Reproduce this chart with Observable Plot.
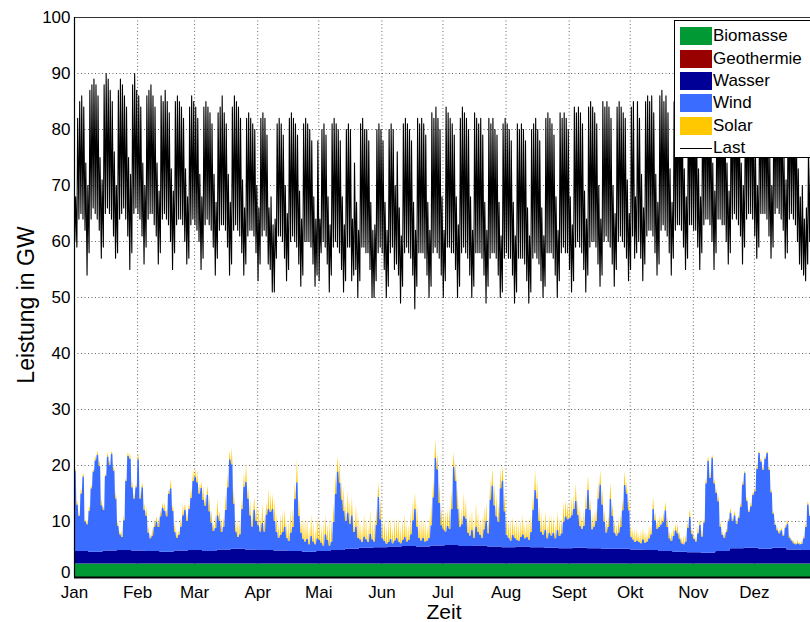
<!DOCTYPE html>
<html>
<head>
<meta charset="utf-8">
<script src="https://cdn.jsdelivr.net/npm/d3@7"></script>
<script src="https://cdn.jsdelivr.net/npm/@observablehq/plot@0.6"></script>
<style>
  html, body { margin: 0; padding: 0; background: #fff; overflow: hidden; }
  #wrap { position: relative; width: 810px; height: 622px; overflow: hidden; font-family: "Liberation Sans", Arial, sans-serif; }
  #wrap svg { overflow: hidden; }
  .lbl { position: absolute; color: #000; font-size: 21px; line-height: 20px; white-space: nowrap; }
  #ylab { left: 26px; top: 305px; font-size: 23px; line-height: 23px; transform: translate(-50%, -50%) rotate(-90deg); }
  #xlab { left: 444px; top: 612px; transform: translate(-50%, -50%); }
  #legend { position: absolute; left: 674px; top: 20px; width: 150px; height: 136px; border: 1px solid #000; background: #fff; }
  .item { position: absolute; left: 5px; height: 18px; display: flex; align-items: center; font-size: 17px; color: #000; }
  .sw { width: 32px; height: 18px; margin-right: 1px; }
  .ln { width: 32px; height: 1px; background: #000; margin-right: 1px; }
</style>
</head>
<body>
<div id="wrap">
  <div id="chart"></div>
  <div class="lbl" id="ylab">Leistung in GW</div>
  <div class="lbl" id="xlab">Zeit</div>
  <div id="legend"></div>
</div>
<script>
// ---------- data ----------
const MONTHS = ["Jan","Feb","Mar","Apr","Mai","Jun","Jul","Aug","Sept","Okt","Nov","Dez"];
const MONTH_START = [0,31,59,90,120,151,181,212,243,273,304,334];
const Y_TICKS = [0,10,20,30,40,50,60,70,80,90,100];
const SOURCES = ["Biomasse","Geothermie","Wasser","Wind","Solar"];
const COLORS = ["#009933","#990000","#000096","#3a6cff","#ffc800"];
const LOAD_NAME = "Last";

const BIOMASSE = 2.4;     // GW, constant band
const GEOTHERMIE = 0.03;  // GW, barely visible

// Wasser, one value per week (53 weeks)
const WASSER_WEEKLY = [2.2,2.1,2.3,2.4,2.3, 2.2,2.1,2.3,2.4, 2.2,2.5,2.6,2.5, 2.4,2.3,2.2,2.1,
  2.2,2.4,2.6,2.8, 2.9,3.0,3.1,3.0,3.2, 3.3,3.1,3.2,3.0, 2.9,3.0,2.9,2.8,2.7, 2.8,2.7,2.6,2.6,
  2.5,2.4,2.2,2.1, 2.0,1.9,2.2,2.7,2.8, 2.6,2.8,2.5,2.4,2.4];

// Wind, daily values (GW)
const WIND = [
  // Jan
  14.3,8.3,6.3,10.3,13.3,5.3,4.8,7.3,11.3,14.3,16.3,17.3,15.3,8.3,7.3,13.3,16.8,15.3,17.3,14.3,9.3,4.3,2.8,2.3,5.3,12.3,16.8,16.3,11.3,9.3,11.3,
  // Feb
  16.3,9.3,11.3,7.3,6.3,3.3,2.3,2.8,4.3,5.3,4.3,6.3,7.8,7.3,6.3,10.3,11.3,7.3,3.3,2.3,2.8,4.3,6.3,7.3,5.3,7.3,9.3,12.3,
  // Mar
  13.1,12.1,10.1,11.1,9.1,8.1,10.1,7.1,5.1,3.6,4.1,6.1,5.1,3.1,4.1,7.1,11.1,16.1,15.1,8.1,3.1,2.1,2.6,7.1,11.1,12.1,9.1,6.1,4.1,7.1,5.1,
  // Apr
  4.3,3.3,4.8,3.3,6.3,7.3,6.8,7.3,5.3,3.3,2.3,2.8,3.3,4.3,2.3,1.8,3.3,4.3,9.3,12.3,6.3,3.3,2.3,1.8,2.3,1.3,2.8,1.8,1.3,2.3,
  // Mai
  2,1.5,1,3,2,1,1.5,5,10,14,12,9,7,5,6.5,4.5,6,3,4,2,1.5,1,2,1.5,1,2.5,1.5,1,4,9,5,
  // Jun
  1.6,1.1,0.6,0.8,1.4,0.6,1.1,1.6,0.9,0.6,1.1,1.6,0.8,1.1,2.1,4.6,6.6,3.6,1.6,1.1,1.6,0.9,1.1,1.6,3.6,8.6,15.6,13.6,7.6,3.6,
  // Jul
  2.9,2.4,3.4,2.9,6.4,13.9,11.4,6.4,3.4,3.9,5.4,4.9,2.4,1.9,2.9,1.4,3.4,2.4,1.9,1.4,2.9,4.4,2.4,8.4,10.9,7.4,5.4,4.4,10.4,11.9,6.4,
  // Aug
  2.2,1.7,1.2,2.2,1.7,1.2,1,1.7,2.2,1.5,1.7,1.2,2.7,6.7,10.2,8.7,4.7,2.7,2.2,3.2,1.7,2.7,2.2,2.7,1.7,3.2,2.2,2.7,4.7,5.7,5.2,
  // Sept
  5.4,5.9,6.9,8.4,5.9,3.9,3.4,3.9,6.9,10.4,6.9,3.4,3.9,4.9,8.9,11.4,7.9,4.9,2.9,3.9,8.9,5.9,2.9,2.4,2.9,3.9,6.9,11.4,9.9,6.9,
  // Okt
  2.3,1.8,1.3,1.6,1.3,1.1,1.8,1.3,1.5,2.1,2.8,7.3,5.3,3.8,4.3,4.8,5.3,7.3,4.3,2.3,1.8,2.8,3.8,3.3,2.3,1.5,1.3,1.8,4.3,6.3,3.3,
  // Nov
  2.4,1.9,3.4,4.9,2.9,5.4,12.4,16.4,13.4,16.9,12.4,10.4,8.9,4.4,2.9,2.4,3.4,5.4,6.4,4.9,5.9,4.4,5.4,7.4,11.4,13.4,8.4,6.4,7.4,9.4,
  // Dez
  10.1,14.1,17.1,15.6,14.1,16.1,17.1,14.1,10.1,6.1,4.1,3.1,2.6,3.1,2.1,3.6,4.6,2.1,1.6,1.1,0.9,1.1,0.9,1.1,2.1,4.1,8.1,6.1,5.1,4.1,3.1
];

// Solar, daily midday peak (GW)
const SOLAR = [
  0.6,0.8,0.5,1.0,0.7,0.4,0.9,1.1,0.6,0.5,0.8,0.7,1.0,1.2,0.6,0.4,0.7,0.9,0.5,0.8,1.1,0.9,0.6,1.2,0.8,0.5,0.7,1.0,1.3,0.9,0.6,
  1.0,1.4,0.8,1.2,1.6,1.1,0.7,1.5,1.3,0.9,1.8,1.2,1.0,1.6,1.4,0.8,1.7,1.1,1.9,1.3,0.9,1.5,2.0,1.2,1.6,1.0,1.8,2.1,
  1.5,2.2,1.8,1.2,2.5,2.0,1.6,2.8,2.2,1.4,2.6,3.0,1.9,2.4,1.7,2.9,2.3,1.5,3.1,2.6,2.0,3.3,2.7,1.8,2.5,3.2,2.1,2.8,3.4,2.4,3.0,
  3.2,2.6,3.6,3.0,2.2,3.8,3.4,2.8,3.9,3.5,2.5,3.7,4.0,3.1,2.7,3.8,4.2,3.3,2.9,4.1,3.6,2.4,3.9,4.3,3.5,3.0,4.0,3.7,2.8,4.1,
  3.8,3.2,4.2,3.6,2.9,4.4,4.0,3.3,3.7,2.8,4.1,3.5,4.5,3.0,3.9,4.3,3.4,2.7,4.0,4.6,3.6,3.1,4.2,3.8,2.9,4.4,3.5,4.1,3.3,2.6,3.9,
  3.6,4.0,3.2,4.3,3.8,2.9,4.1,3.5,4.4,3.1,3.9,4.2,3.4,2.8,4.0,3.7,3.0,4.3,3.6,3.9,3.3,4.1,2.7,3.8,4.2,3.2,3.5,3.0,3.9,3.6,
  3.4,3.9,3.1,4.2,3.6,2.7,3.3,4.0,3.8,3.0,4.3,3.5,2.9,4.1,3.7,3.2,4.4,3.6,3.0,3.9,4.2,3.3,2.8,3.7,3.1,3.8,4.0,3.4,3.6,2.9,3.5,
  3.6,3.0,3.9,3.3,2.7,3.8,3.4,3.1,3.7,2.6,3.5,3.9,3.2,2.9,3.6,3.4,2.8,3.7,3.1,3.5,2.5,3.3,3.8,3.0,2.7,3.4,3.2,2.6,3.6,3.1,2.9,
  2.9,3.3,2.5,3.1,2.7,3.4,2.3,2.9,3.2,2.6,2.2,3.0,2.8,2.4,3.1,2.5,2.9,2.1,2.7,2.4,3.0,2.2,2.6,2.0,2.8,2.3,1.9,2.5,2.2,2.6,
  2.3,1.9,2.6,2.1,1.7,2.4,2.0,2.2,1.6,2.3,1.8,2.1,1.5,1.9,2.2,1.4,1.8,1.6,2.0,1.3,1.7,1.5,1.2,1.8,1.4,1.1,1.6,1.3,1.0,1.5,1.2,
  1.1,0.8,1.3,0.9,1.2,0.7,1.0,0.8,1.1,0.6,0.9,0.7,1.0,0.8,0.6,0.9,0.7,0.5,0.8,0.6,0.9,0.7,0.5,0.8,0.6,0.4,0.7,0.5,0.8,0.6,
  0.5,0.7,0.4,0.6,0.8,0.5,0.4,0.7,0.6,0.5,0.3,0.6,0.8,0.5,0.4,0.6,0.7,0.5,0.3,0.6,0.5,0.7,0.4,0.6,0.5,0.8,0.6,0.4,0.7,0.5,0.6
];

// Last (load): daily maximum, one row per week Mon..Sun
const LOAD_PEAK = [
  68,82,85,86,84,74,70,  87,88,89,88,86,75,71,  88,90,89,87,85,76,70,  87,89,88,86,84,75,72,
  88,90,87,86,84,74,70,  86,87,88,86,84,74,69,  86,85,87,85,83,73,69,  85,86,85,84,82,73,68,
  84,86,85,84,82,72,68,  84,85,84,83,81,72,67,  83,84,86,83,81,72,67,  84,86,85,84,82,71,66,
  82,83,82,81,80,70,66,  82,83,82,79,66,68,63,  64,81,82,81,79,70,65,  82,83,82,81,79,69,64,
  81,82,81,80,78,68,64,  78,64,80,81,79,68,63,  81,82,81,80,78,68,63,  80,81,80,64,74,67,62,
  81,82,80,80,78,67,62,  63,80,81,80,78,67,62,  80,81,80,70,76,66,61,  81,82,81,80,78,67,62,
  82,81,82,81,79,67,62,  83,82,84,82,80,68,62,  84,83,82,81,79,68,63,  82,84,83,82,80,68,62,
  83,82,81,82,79,67,62,  82,81,82,80,79,67,61,  81,82,81,80,78,67,61,  81,80,81,80,78,66,61,
  80,81,82,80,78,66,61,  82,83,82,81,79,68,62,  83,82,83,82,80,68,63,  84,83,84,83,81,69,64,
  84,85,84,83,81,70,64,  85,84,85,84,82,70,65,  84,85,84,83,82,71,65,  84,85,68,85,82,72,66,
  85,86,85,86,83,72,67,  86,87,85,86,83,73,67,  85,86,88,86,84,73,68,  86,87,86,85,83,73,68,
  86,87,88,86,84,74,69,  87,86,87,86,84,74,69,  86,88,87,86,84,74,70,  87,86,88,87,85,75,70,
  87,88,87,86,85,75,70,  88,87,88,87,85,75,71,  86,87,85,84,82,73,68,  70,64,66,76,75,68,65,
  68
];
// Last (load): daily minimum (night), one row per week Mon..Sun
const LOAD_TROUGH = [
  60,59,64,65,64,62,54,  58,64,66,65,64,62,57,  59,65,66,65,64,61,57,  58,64,65,66,64,61,55,
  58,65,66,65,64,61,56,  59,64,65,65,63,61,56,  58,64,65,64,63,60,55,  58,63,64,64,63,60,56,
  57,63,64,63,62,60,55,  57,63,64,63,62,59,54,  57,62,63,63,62,59,54,  56,62,63,62,61,58,54,
  56,61,62,62,61,58,53,  56,61,62,61,56,55,51,  51,57,61,61,60,57,53,  55,60,61,60,59,56,52,
  54,60,60,60,59,56,52,  54,53,58,60,59,56,51,  54,59,60,59,58,55,51,  53,59,59,53,54,55,50,
  53,59,59,58,58,55,50,  50,53,58,59,58,55,50,  52,58,59,55,56,54,49,  52,58,59,58,57,54,48,
  52,58,58,58,57,54,50,  52,58,59,58,57,54,50,  53,59,59,58,58,55,50,  52,58,59,58,57,54,50,
  52,58,58,58,57,54,49,  52,57,58,58,57,54,50,  51,57,58,57,57,54,49,  51,57,57,57,56,53,49,
  51,57,58,57,56,53,50,  52,58,58,58,57,54,50,  53,58,59,58,58,55,51,  53,59,60,59,58,55,51,
  54,59,60,60,59,56,52,  54,60,61,60,59,56,52,  55,60,61,60,59,57,53,  55,61,57,58,60,57,53,
  56,61,62,62,61,58,54,  56,62,63,62,61,58,54,  57,62,63,63,62,59,55,  57,63,63,62,62,59,55,
  58,63,64,64,63,60,55,  58,64,64,63,63,60,56,  58,64,65,64,63,61,56,  59,64,65,65,64,61,57,
  59,65,65,65,64,61,57,  59,65,66,65,64,62,57,  58,64,65,64,63,60,56,  55,54,53,56,60,58,54,
  55
];

// ---------- build tables ----------
const stackRows = [];
const DAY_POS = [0.15, 0.5, 0.85]; // night / midday / night sample within each day
WIND.forEach((w, d) => {
  DAY_POS.forEach((p, k) => {
    const vals = [BIOMASSE, GEOTHERMIE, WASSER_WEEKLY[Math.floor(d / 7)], w, k === 1 ? SOLAR[d] : 0];
    SOURCES.forEach((s, i) => stackRows.push({x: d + p, source: s, value: vals[i]}));
  });
});
const loadRows = [];
LOAD_PEAK.forEach((pk, d) => {
  loadRows.push({x: d + 0.17, y: LOAD_TROUGH[d]});
  loadRows.push({x: d + 0.55, y: pk});
});

const gridStyle = {stroke: "#555", strokeWidth: 1, strokeDasharray: "1,2.5", strokeOpacity: 0.9};

const chart = Plot.plot({
  width: 810,
  height: 622,
  marginLeft: 74,
  marginTop: 17,
  marginBottom: 45,
  marginRight: 0,
  style: {fontFamily: "'Liberation Sans', Arial, sans-serif", fontSize: "17px", color: "#000", background: "#fff"},
  x: {domain: [0, 365], range: [74, 817], ticks: MONTH_START,
      tickFormat: d => MONTHS[MONTH_START.indexOf(d)], tickSize: 0, tickPadding: 8, label: null},
  y: {domain: [0, 100], ticks: Y_TICKS.slice(1), tickSize: 0, tickPadding: 4, label: null},
  color: {domain: SOURCES, range: COLORS},
  marks: [
    Plot.ruleX(MONTH_START, gridStyle),
    Plot.ruleY(Y_TICKS, gridStyle),
    Plot.areaY(stackRows, {x: "x", y: "value", z: "source", fill: "source"}),
    Plot.lineY(loadRows, {x: "x", y: "y", stroke: "#000", strokeWidth: 1.1}),
    Plot.ruleY([100], {stroke: "#333", strokeWidth: 1}),
    Plot.ruleX([0], {stroke: "#000", strokeWidth: 1.2}),
    Plot.ruleY([0], {stroke: "#000", strokeWidth: 2}),
    // the "0" tick label, lifted slightly off the month labels
    Plot.text(Y_TICKS.slice(0, 1), {y: d => d, frameAnchor: "left", textAnchor: "end", dx: -4, dy: -4.5,
      text: d => String(d), fill: "#000", fontSize: 17})
  ]
});
document.getElementById("chart").appendChild(chart);

// legend
const legend = document.getElementById("legend");
const ROW_TOP = [6, 29, 51, 73, 96, 118];
SOURCES.concat([LOAD_NAME]).forEach((name, i) => {
  const it = document.createElement("div");
  it.className = "item";
  it.style.top = ROW_TOP[i] + "px";
  const sw = document.createElement("div");
  if (i < SOURCES.length) { sw.className = "sw"; sw.style.background = COLORS[i]; }
  else { sw.className = "ln"; }
  const tx = document.createElement("span");
  tx.textContent = name;
  it.appendChild(sw); it.appendChild(tx);
  legend.appendChild(it);
});
</script>
</body>
</html>
